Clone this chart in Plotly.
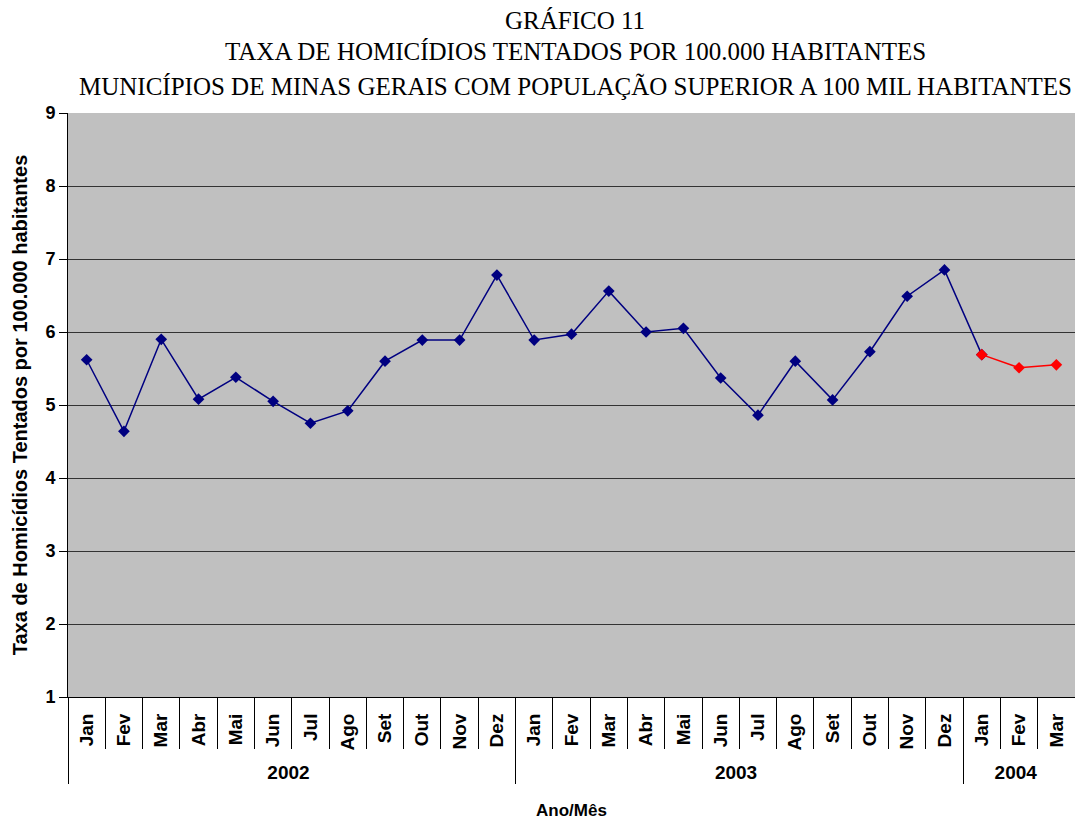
import plotly.graph_objects as go

## dados
anos = ['2002'] * 12 + ['2003'] * 12 + ['2004'] * 3
meses = ['Jan', 'Fev', 'Mar', 'Abr', 'Mai', 'Jun', 'Jul', 'Ago', 'Set', 'Out', 'Nov', 'Dez'] * 2 + ['Jan', 'Fev', 'Mar']
taxa_2002 = [5.62, 4.64, 5.90, 5.08, 5.38, 5.05, 4.75, 4.92, 5.60, 5.89, 5.89, 6.78]
taxa_2003 = [5.89, 5.97, 6.56, 6.00, 6.05, 5.37, 4.86, 5.60, 5.07, 5.73, 6.49, 6.85]
taxa_2004 = [5.69, 5.51, 5.55]

titulos = ['GRÁFICO 11',
           'TAXA DE HOMICÍDIOS TENTADOS POR 100.000 HABITANTES',
           'MUNICÍPIOS DE MINAS GERAIS COM POPULAÇÃO SUPERIOR A 100 MIL HABITANTES']

taxa = taxa_2002 + taxa_2003 + taxa_2004
n_azul = len(taxa_2002) + len(taxa_2003)

fig = go.Figure()

# serie azul (2002-2003), a linha vai ate jan/2004
fig.add_trace(go.Scatter(
    x=[anos[:n_azul + 1], meses[:n_azul + 1]],
    y=taxa[:n_azul + 1],
    mode='lines+markers',
    line=dict(color='#000080', width=1.5),
    marker=dict(symbol='diamond', size=9, color='#000080'),
    showlegend=False,
))

# serie vermelha (2004)
fig.add_trace(go.Scatter(
    x=[anos[n_azul:], meses[n_azul:]],
    y=taxa[n_azul:],
    mode='lines+markers',
    line=dict(color='#FF0000', width=1.5),
    marker=dict(symbol='diamond', size=9, color='#FF0000'),
    showlegend=False,
))

# titulo em tres linhas
for txt, yy in zip(titulos, [1.159, 1.106, 1.046]):
    fig.add_annotation(text=txt, xref='paper', yref='paper', x=0.5035, y=yy,
                       xanchor='center', yanchor='middle', showarrow=False,
                       font=dict(family='Liberation Serif', size=25, color='black'))

sans = 'Liberation Sans, Arial, sans-serif'
fig.update_layout(
    width=1075, height=820,
    margin=dict(l=68, r=0, t=113, b=123),
    paper_bgcolor='white',
    plot_bgcolor='#C0C0C0',
    font=dict(family=sans, size=15, color='black'),
    xaxis=dict(
        type='multicategory',
        automargin=False,
        range=[-0.5, len(taxa) - 0.5],
        tickangle=-90,
        tickfont=dict(family=sans, size=19, weight='bold'),
        ticklabelstandoff=8,
        showline=True, linecolor='black', linewidth=1,
        ticks='outside', tickson='boundaries', ticklen=51, tickcolor='black',
        showdividers=True, dividercolor='black', dividerwidth=1,
        showgrid=False,
        title=dict(text='Ano/Mês', font=dict(family=sans, size=17, weight='bold'), standoff=21),
    ),
    yaxis=dict(
        automargin=False,
        range=[1, 9], dtick=1,
        showline=True, linecolor='black', linewidth=1,
        ticks='outside', ticklen=8, tickcolor='black',
        gridcolor='#333333', gridwidth=1,
        tickfont=dict(family=sans, size=18, weight='bold'),
        title=dict(text='Taxa de Homicídios Tentados por 100.000 habitantes',
                   font=dict(family=sans, size=20, weight='bold'), standoff=12),
    ),
)

# tira a margem padrao do body para o grafico ocupar a janela toda
fig.write_html("out.html", config={'displayModeBar': False},
               post_script="document.body.style.margin='0';")
